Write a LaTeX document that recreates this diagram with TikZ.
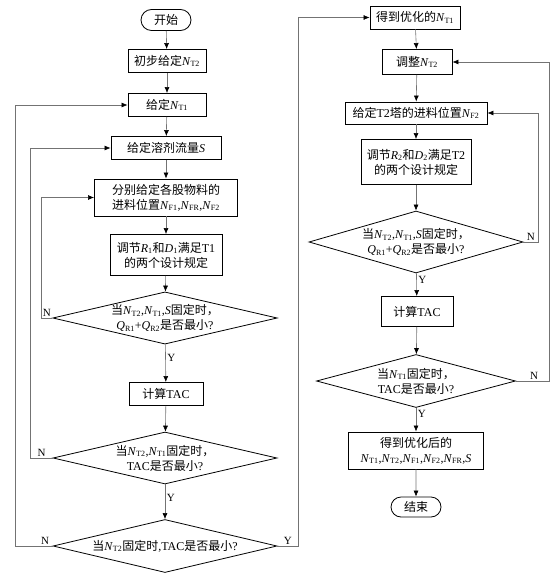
\documentclass[tikz,border=0pt]{standalone}
\usepackage{fontspec}
\setmainfont{Liberation Serif}
\newfontfamily\cjk{Noto Sans CJK SC}
\usetikzlibrary{positioning,arrows.meta,shapes.geometric,shapes.misc}
\newcommand{\vsub}[2]{\textit{#1}\textsubscript{#2}}
\tikzset{
  flowline/.style={line width=0.6pt, draw=black!55},
  flowarrow/.style={flowline, -{Latex[length=6pt,width=5pt,color=black]}},
  procbox/.style={draw, line width=0.9pt, minimum height=23pt, inner sep=3pt, align=center},
  termbox/.style={draw, rounded rectangle, line width=0.8pt, minimum width=54pt, minimum height=21pt, inner sep=2pt},
  decision/.style={draw, diamond, line width=0.8pt, inner sep=0pt, align=center},
  yn/.style={font=\fontsize{11}{11}\selectfont, inner sep=1.5pt}
}

\begin{document}
\begin{tikzpicture}[x=1pt, y=-1pt, every node/.style={font=\fontsize{12}{15}\selectfont}]
  \useasboundingbox (0,0) rectangle (555,580);
  % left column
  \node[termbox] (start) at (166,20) {\cjk 开始};
  \node[procbox, minimum width=78pt] (initT2) at (167,61) {{\cjk 初步给定}\vsub{N}{T2}};
  \node[procbox, minimum width=78pt] (setT1) at (167,105) {{\cjk 给定}\vsub{N}{T1}};
  \node[procbox, minimum width=110pt] (setS) at (166,148) {{\cjk 给定溶剂流量}\textit{S}};
  \node[procbox, minimum width=143pt, minimum height=37pt] (setF) at (166,197.5) {{\cjk 分别给定各股物料的}\\{\cjk 进料位置}\vsub{N}{F1},\vsub{N}{FR},\vsub{N}{F2}};
  \node[procbox, minimum width=112pt, minimum height=41pt] (adjA) at (166,255) {{\cjk 调节}\vsub{R}{1}{\cjk 和}\vsub{D}{1}{\cjk 满足}T1\\{\cjk 的两个设计规定}};
  \node[decision, aspect=4.3, minimum width=224pt, minimum height=52pt] (qA) at (165,318) {{\cjk 当}\vsub{N}{T2},\vsub{N}{T1},\textit{S}{\cjk 固定时，}\\\vsub{Q}{R1}+\vsub{Q}{R2}{\cjk 是否最小}?};
  \node[procbox, minimum width=74pt] (tacA) at (166,394) {{\cjk 计算}TAC};
  \node[decision, aspect=4.3, minimum width=224pt, minimum height=52pt] (tA) at (165,458) {{\cjk 当}\vsub{N}{T2},\vsub{N}{T1}{\cjk 固定时，}\\TAC{\cjk 是否最小}?};
  \node[decision, aspect=4.2, minimum width=224pt, minimum height=53pt] (tT2) at (165,546) {{\cjk 当}\vsub{N}{T2}{\cjk 固定时},TAC{\cjk 是否最小}?};
  % right column
  \node[procbox, minimum width=90pt] (optT1) at (415,17.5) {{\cjk 得到优化的}\vsub{N}{T1}};
  \node[procbox, minimum width=70pt, minimum height=25pt] (adjT2) at (417,62) {{\cjk 调整}\vsub{N}{T2}};
  \node[procbox, minimum width=142pt, minimum height=22pt] (setF2) at (416,113) {{\cjk 给定}T2{\cjk 塔的进料位置}\vsub{N}{F2}};
  \node[procbox, minimum width=110pt, minimum height=45pt] (adjB) at (416,162) {{\cjk 调节}\vsub{R}{2}{\cjk 和}\vsub{D}{2}{\cjk 满足}T2\\{\cjk 的两个设计规定}};
  \node[decision, aspect=3.45, minimum width=214pt, minimum height=62pt] (qB) at (416,242) {{\cjk 当}\vsub{N}{T2},\vsub{N}{T1},\textit{S}{\cjk 固定时，}\\\vsub{Q}{R1}+\vsub{Q}{R2}{\cjk 是否最小}?};
  \node[procbox, minimum width=72pt, minimum height=30pt] (tacB) at (417,311.5) {{\cjk 计算}TAC};
  \node[decision, aspect=3.75, minimum width=199pt, minimum height=53pt] (tB) at (416,381) {{\cjk 当}\vsub{N}{T1}{\cjk 固定时，}\\TAC{\cjk 是否最小}?};
  \node[procbox, minimum width=135pt, minimum height=37pt] (result) at (416,450.5) {{\cjk 得到优化后的}\\\vsub{N}{T1},\vsub{N}{T2},\vsub{N}{F1},\vsub{N}{F2},\vsub{N}{FR},\textit{S}};
  \node[termbox, minimum height=20pt] (stop) at (416,507) {\cjk 结束};

  % main flow
  \draw[flowarrow] (start) -- (initT2);
  \draw[flowarrow] (initT2) -- (setT1);
  \draw[flowarrow] (setT1) -- (setS);
  \draw[flowarrow] (setS) -- (setF);
  \draw[flowarrow] (setF) -- (adjA);
  \draw[flowarrow] (adjA) -- (qA);
  \draw[flowarrow] (qA) -- node[yn, right, pos=0.35] {Y} (tacA);
  \draw[flowarrow] (tacA) -- (tA);
  \draw[flowarrow] (tA) -- node[yn, right, pos=0.4] {Y} (tT2);
  \draw[flowarrow] (optT1) -- (adjT2);
  \draw[flowarrow] (adjT2) -- (setF2);
  \draw[flowarrow] (setF2) -- (adjB);
  \draw[flowarrow] (adjB) -- (qB);
  \draw[flowarrow] (qB) -- node[yn, right, pos=0.3] {Y} (tacB);
  \draw[flowarrow] (tacB) -- (tB);
  \draw[flowarrow] (tB) -- node[yn, right, pos=0.25] {Y} (result);
  \draw[flowarrow] (result) -- (stop);

  % loops
  \draw[flowarrow] (qA.west) -- node[yn, above] {N} ++(-11,0) |- (setF.west);
  \draw[flowarrow] (tA.west) -- node[yn, above] {N} ++(-22,0) |- (setS.west);
  \draw[flowarrow] (tT2.west) -- node[yn, above, pos=0.2] {N} ++(-37,0) |- (setT1.west);
  \draw[flowarrow] (tT2.east) -- node[yn, above] {Y} ++(21,0) |- (optT1.west);
  \draw[flowarrow] (qB.east) -- node[yn, above] {N} ++(15,0) |- (setF2.east);
  \draw[flowarrow] (tB.east) -- node[yn, above, pos=0.55] {N} ++(33,0) |- (adjT2.east);
\end{tikzpicture}
\end{document}
